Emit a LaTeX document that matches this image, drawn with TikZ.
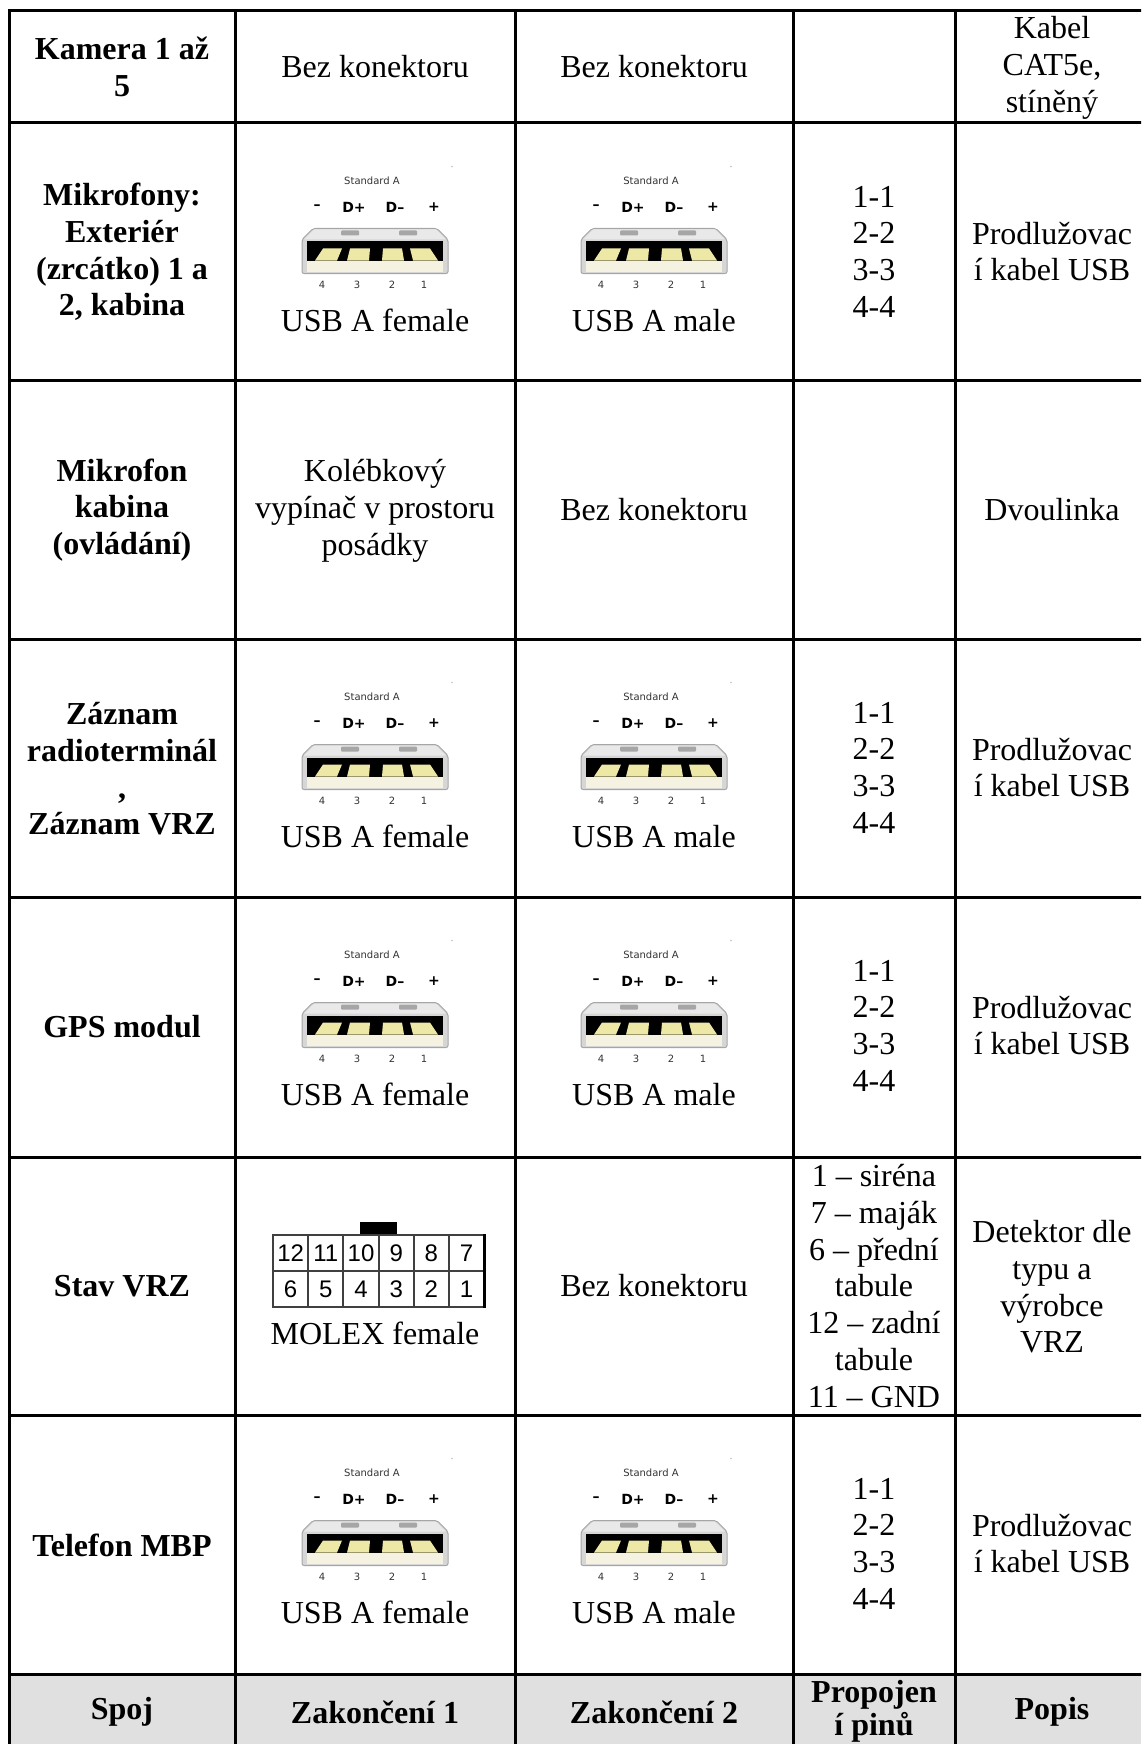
\documentclass[tikz,border=0pt]{standalone}
\usepackage{fontspec}
\setmainfont{Liberation Serif}
\newfontfamily\iconfont{DejaVu Sans}
\newfontfamily\molexfont{Liberation Sans}
\definecolor{headgray}{HTML}{E0E0E0}
\definecolor{usbgrey}{HTML}{D6D6D6}
\definecolor{usbtop}{HTML}{E9E9E9}
\definecolor{usbpin}{HTML}{EEE8A6}
\definecolor{usbbar}{HTML}{F5F2E2}
\tikzset{
  usbA/.pic={
    \node[font=\iconfont\fontsize{10}{12}\selectfont, text=black!80, inner sep=0pt] (-std) at (-3,-70) {Standard A};
    \fill[gray!50] (77,-84) circle (0.8pt);
    \foreach \x/\t [count=\i] in {-58/–,-21/D+,20/D–,59/+}
      \node[font=\iconfont\bfseries\fontsize{14}{16}\selectfont, inner sep=0pt] (-p\i) at (\x,-43) {\t};
    \draw[draw=gray!70, line width=1pt, fill=usbgrey, rounded corners=2pt] (-62,-22) -- (62,-22) -- (73,-11) -- (73,23) -- (-73,23) -- (-73,-11) -- cycle;
    \fill[usbtop] (-61,-21) -- (61,-21) -- (71,-11) -- (-71,-11) -- cycle;
    \fill[gray!70, rounded corners=1pt] (-34,-20) rectangle (-16,-15);
    \fill[gray!70, rounded corners=1pt] (24,-20) rectangle (42,-15);
    \fill[black] (-68,-9) rectangle (68,10);
    \fill[usbbar] (-68,10) rectangle (68,21);
    \fill[usbpin] (-60,10) -- (-52,-2) -- (-33,-2) -- (-38,10) -- cycle;
    \fill[usbpin] (-28,10) -- (-25,-2) -- (-5,-2) -- (-6,10) -- cycle;
    \fill[usbpin] (7,10) -- (8,-2) -- (27,-2) -- (29,10) -- cycle;
    \fill[usbpin] (38,10) -- (35,-2) -- (55,-2) -- (63,10) -- cycle;
    \foreach \x/\t [count=\i] in {-53/4,-18/3,17/2,49/1}
      \node[font=\iconfont\fontsize{10}{12}\selectfont, text=black!80, inner sep=0pt] (-n\i) at (\x,34) {\t};
    \node[align=center, inner sep=0pt, font=\fontsize{32}{36.7}\selectfont] (-lbl) at (0,70) {USB A #1};
  }
}
\begin{document}
\begin{tikzpicture}[x=1pt, y=-1pt,
    grid/.style={line width=3pt, line cap=rect},
    cell/.style={align=center, inner sep=0pt, font=\fontsize{32}{36.7}\selectfont},
    head/.style={cell, font=\fontsize{32}{36.7}\selectfont\bfseries},
    molexcell/.style={draw=black!75, line width=2pt}]
    \useasboundingbox (0,0) rectangle (1141,1744);
    \clip (0,0) rectangle (1141,1744);
    \fill[headgray] (9,1674) rectangle (1141,1760);
    \foreach \y in {11,123,380,639,897,1157,1415,1674}
        \draw[grid] (9,\y) -- (1160,\y);
    \foreach \x in {9,235,515,793,955}
        \draw[grid] (\x,11) -- (\x,1760);

    \node[head] (kam) at (122,67) {Kamera 1 až\\5};
    \node[cell] (kamz1) at (375,67) {Bez konektoru};
    \node[cell] (kamz2) at (654,67) {Bez konektoru};
    \node[cell] (kampop) at (1052,68) {Kabel\\CAT5e,\\stíněný};

    \node[head] (mik) at (122,252) {Mikrofony:\\Exteriér\\(zrcátko) 1 a\\2, kabina};
    \node[head] (mikk) at (122,510) {Mikrofon\\kabina\\(ovládání)};
    \node[cell] (mikkz1) at (375,511) {Kolébkový\\vypínač v prostoru\\posádky};
    \node[cell] (mikkz2) at (654,510) {Bez konektoru};
    \node[cell] (mikkpop) at (1052,510) {Dvoulinka};
    \node[head] (zaz) at (122,769) {Záznam\\radioterminál\\,\\Záznam VRZ};
    \node[head] (gps) at (122,1027) {GPS modul};
    \node[head] (vrz) at (122,1286) {Stav VRZ};
    \node[head] (tel) at (122,1545) {Telefon MBP};

    \foreach \y [count=\i] in {250.5,766.5,1024.5,1542.5} {
        \pic (uf\i) at (375,\y) {usbA=female};
        \pic (um\i) at (654,\y) {usbA=male};
        \node[cell] (pin\i) at (874,{\y+1}) {1-1\\2-2\\3-3\\4-4};
        \node[cell] (pop\i) at (1052,{\y+1}) {Prodlužovac\\í kabel USB};
    }

    \fill (360,1222) rectangle (397,1235);
    \foreach \n [count=\k from 0] in {12,11,...,1} {
        \pgfmathsetmacro\mx{273+35.2*mod(\k,6)}
        \pgfmathsetmacro\my{1235+36*floor(\k/6)}
        \draw[molexcell] (\mx,\my) rectangle ++(35.2,36);
        \node[font=\molexfont\fontsize{24}{26}\selectfont, inner sep=0pt] (m\n) at ({\mx+17.6},{\my+18}) {\n};
    }
    \draw[line width=3pt] (484,1234) -- (484,1308);
    \node[cell] (mol) at (375,1333) {MOLEX female};
    \node[cell] (vrzz2) at (654,1286) {Bez konektoru};
    \node[cell] (vrzpin) at (874,1286) {1 – siréna\\7 – maják\\6 – přední\\tabule\\12 – zadní\\tabule\\11 – GND};
    \node[cell] (vrzpop) at (1052,1287) {Detektor dle\\typu a\\výrobce\\VRZ};

    \node[head] (hspoj) at (122,1712) {Spoj};
    \node[head] (hz1) at (375,1712) {Zakončení 1};
    \node[head] (hz2) at (654,1712) {Zakončení 2};
    \node[head, font=\fontsize{32}{33}\selectfont\bfseries] (hpin) at (874,1711) {Propojen\\í pinů};
    \node[head] (hpop) at (1052,1712) {Popis};
\end{tikzpicture}
\end{document}
